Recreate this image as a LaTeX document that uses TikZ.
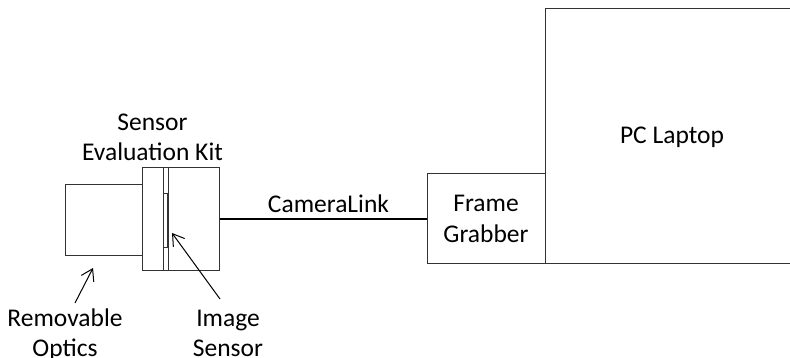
\documentclass[tikz,border=0pt]{standalone}
\usepackage{fontspec}
\setmainfont{Carlito}
\usetikzlibrary{arrows.meta}
\begin{document}
\begin{tikzpicture}[x=1pt,y=-1pt,
  box/.style={draw=black!80,line width=1pt,inner sep=0pt,rectangle},
  lbl/.style={inner sep=0pt,anchor=base,font=\fontsize{25.5}{31}\selectfont},
  pointer/.style={line width=1pt,-{Straight Barb[length=11pt,width=14pt,line width=1pt]}}]
\useasboundingbox (0,0) rectangle (790,357);
% hardware blocks
\node[box,minimum width=77pt,minimum height=71pt] (optics) at (103.5,219.5) {};
\node[box,minimum width=77pt,minimum height=103pt] (kit) at (180.5,218.5) {};
\node[box,minimum width=5.5pt,minimum height=103pt] (strip) at (165.75,218.5) {};
\node[box,minimum width=4pt,minimum height=54pt] (sensor) at (165,220) {};
\node[box,minimum width=118pt,minimum height=90pt] (grabber) at (486,218) {};
\node[box,minimum width=255pt,minimum height=255pt] (laptop) at (672.5,135.5) {};
% cable
\draw[line width=2.4pt] (kit.east |- 0,219) -- (grabber.west |- 0,219);
% labels
\node[lbl] (kitA) at (152.5,130) {Sensor};
\node[lbl] (kitB) at (152.5,160) {Evaluation Kit};
\node[lbl] (cam) at (328.5,212) {CameraLink};
\node[lbl] (fgA) at (486,211) {Frame};
\node[lbl] (fgB) at (486,242) {Grabber};
\node[lbl] (pc) at (672,143) {PC Laptop};
\node[lbl] (roA) at (65,326) {Removable};
\node[lbl] (roB) at (65,356) {Optics};
\node[lbl] (isA) at (228,326) {Image};
\node[lbl] (isB) at (228,356) {Sensor};
% pointers
\coordinate (optTail) at (75,303);
\coordinate (optHead) at (93,268);
\coordinate (senTail) at (220,299);
\coordinate (senHead) at (172,233);
\draw[pointer] (optTail) -- (optHead);
\draw[pointer] (senTail) -- (senHead);
\end{tikzpicture}
\end{document}
